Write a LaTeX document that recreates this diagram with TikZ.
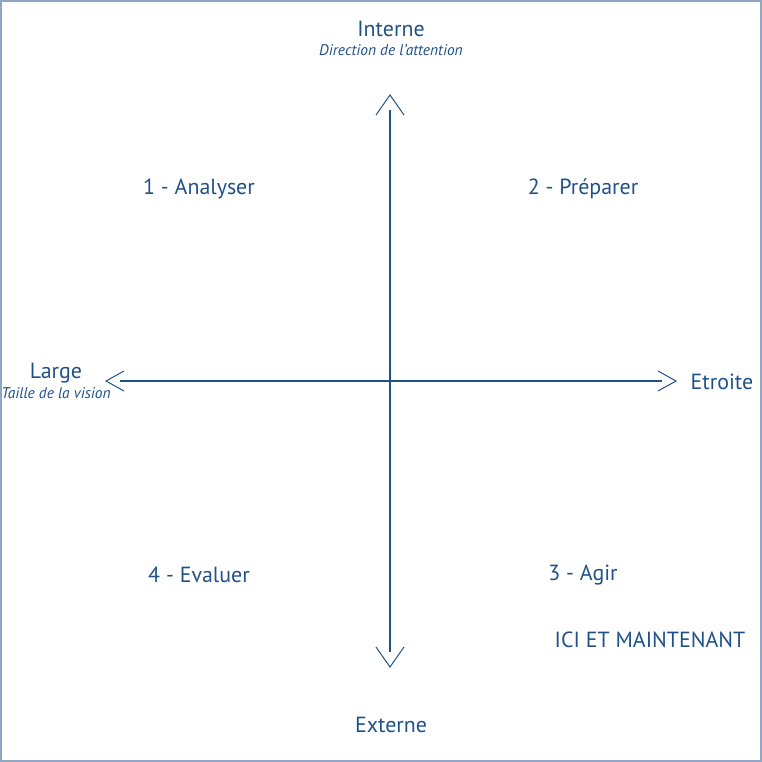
\documentclass[tikz,border=0pt]{standalone}
\usepackage{fontspec}
\setmainfont{PT Sans}
\usetikzlibrary{calc}
\definecolor{txtblue}{HTML}{1F5188}
\definecolor{frameblue}{HTML}{8FA7C2}
\begin{document}
\begin{tikzpicture}[x=1bp,y=-1bp,
  lbl/.style={text=txtblue,font=\fontsize{22}{24}\selectfont,inner sep=0pt},
  sub/.style={text=txtblue,font=\itshape\fontsize{15.5}{17}\selectfont,inner sep=0pt},
  shaft/.style={draw=txtblue,line width=1.8bp},
  vhead/.style={draw=txtblue,line width=1bp}]
\useasboundingbox (0,0) rectangle (762,762);
\draw[frameblue,line width=1.5bp] (1,1) rectangle (761,761);
% axis ends
\coordinate (top) at (390,95);
\coordinate (bot) at (390,667);
\coordinate (left) at (106,381);
\coordinate (right) at (676,381);
\coordinate (topS) at (390,110);
\coordinate (botS) at (390,652);
\coordinate (leftS) at (120,381);
\coordinate (rightS) at (662,381);
\draw[shaft,line width=2.2bp] (topS) -- (botS);
\draw[shaft,line width=1.6bp] (leftS) -- (rightS);
\draw[vhead] ($(top)+(-14,20)$) -- (top) -- ($(top)+(14,20)$);
\draw[vhead] ($(bot)+(-14,-20)$) -- (bot) -- ($(bot)+(14,-20)$);
\draw[vhead] ($(left)+(18,-10)$) -- (left) -- ($(left)+(18,10)$);
\draw[vhead] ($(right)+(-18,-10)$) -- (right) -- ($(right)+(-18,10)$);
% labels
\node[lbl] (interne) at (391,29) {Interne};
\node[sub] (dir) at (391,50) {Direction de l’attention};
\node[lbl] (q1) at (199,189) {1 - Analyser};
\node[lbl] (q2) at (583,189) {2 - Préparer};
\node[lbl] (large) at (56,373) {Large};
\node[sub] (taille) at (56,393) {Taille de la vision};
\node[lbl] (etroite) at (722,382) {Etroite};
\node[lbl] (q4) at (199,575) {4 - Evaluer};
\node[lbl] (q3) at (583,575) {3 - Agir};
\node[lbl] (ici) at (650,640) {ICI ET MAINTENANT};
\node[lbl] (externe) at (391,725) {Externe};
\end{tikzpicture}
\end{document}
